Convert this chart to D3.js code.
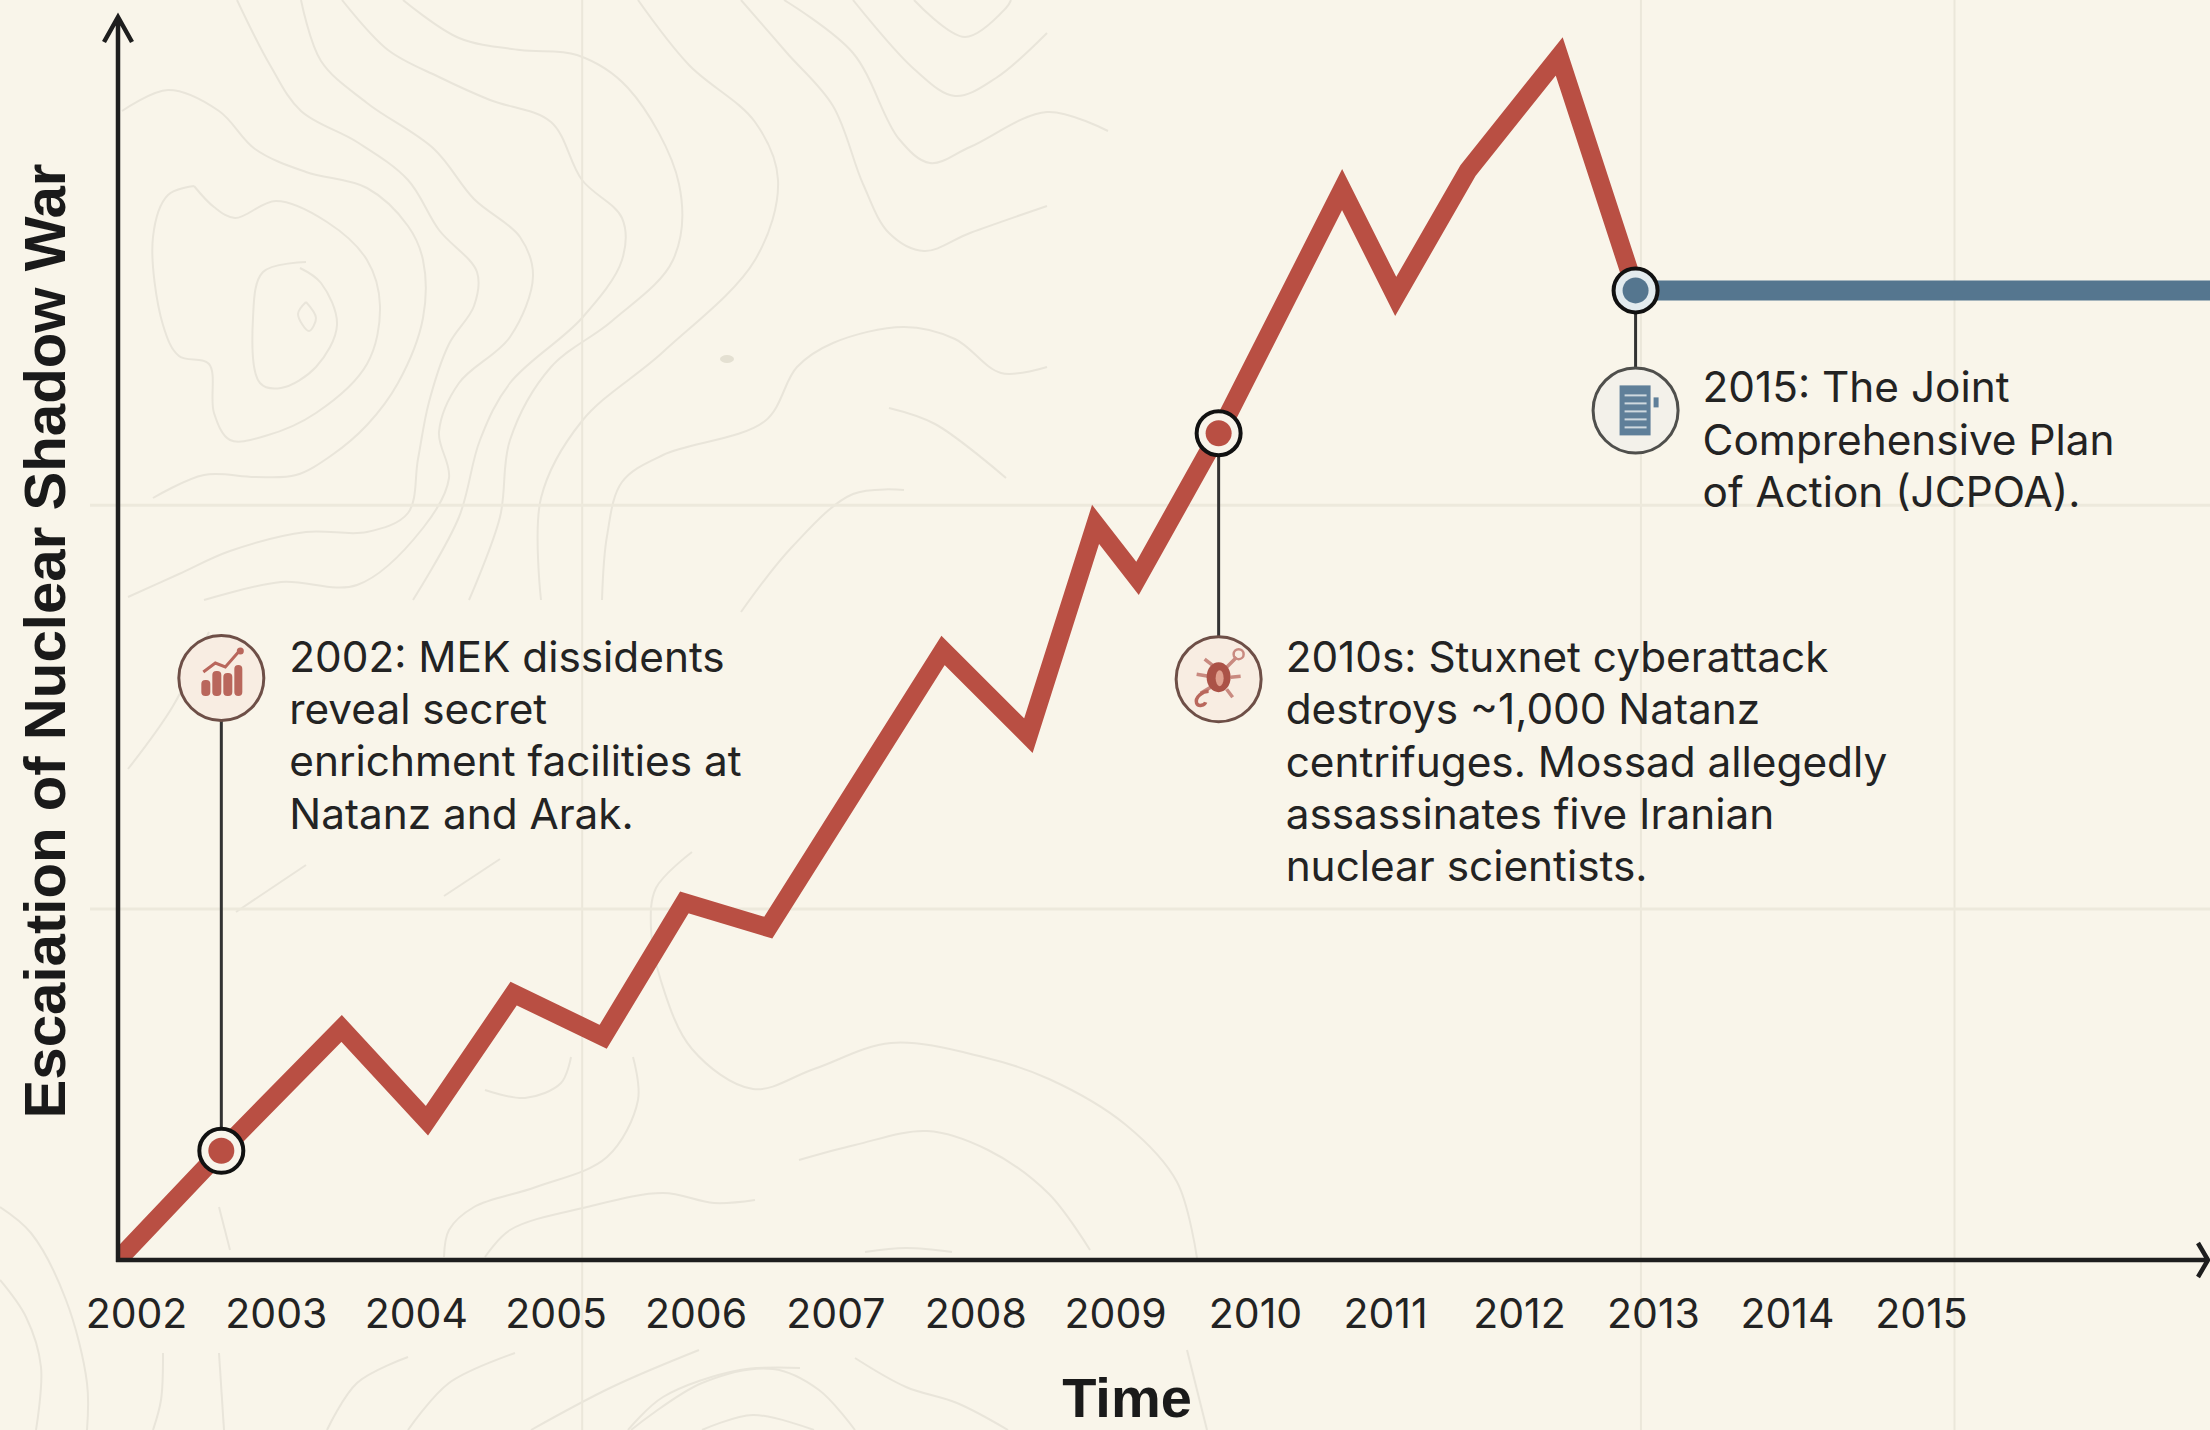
<!DOCTYPE html>
<html>
<head>
<meta charset="utf-8">
<title>Escalation of Nuclear Shadow War</title>
<script src="https://cdn.jsdelivr.net/npm/d3@7"></script>
<style>
  html, body { margin: 0; padding: 0; background: #f9f5ea; overflow: hidden; }
  svg { display: block; }
  text { font-family: Inter, "Liberation Sans", sans-serif; fill: #232323; }
  .title { font-family: "Liberation Sans", Arial, sans-serif; font-weight: 700; fill: #1a1a1a; }
</style>
</head>
<body>
<script>
'use strict';

var tickYears = [2002, 2003, 2004, 2005, 2006, 2007, 2008, 2009, 2010, 2011, 2012, 2013, 2014, 2015];

// escalation path
var redYears = [2001.87, 2002.61, 2003.47, 2004.08, 2004.70, 2005.34, 2005.92, 2006.52, 2007.77, 2008.38, 2008.86, 2009.16, 2009.74, 2010.67, 2011.08, 2011.62, 2012.30, 2012.87];
var redValues = [0, 9.1, 19.3, 11.6, 22.2, 18.6, 29.8, 27.7, 50.8, 43.7, 61.3, 56.8, 68.9, 89.2, 80.3, 90.8, 100.3, 80.8];

var blueYears = [2012.87, 2017.3];
var blueValues = [80.8, 80.8];

var eventYears = [2002.61, 2009.74, 2012.87];
var eventValues = [9.1, 68.9, 80.8];
var eventIconValues = [48.5, 48.4, 70.8];
var eventColors = ['red', 'red', 'blue'];
var eventIcons = ['chart', 'bug', 'doc'];
var eventTexts = [
  ['2002: MEK dissidents', 'reveal secret', 'enrichment facilities at', 'Natanz and Arak.'],
  ['2010s: Stuxnet cyberattack', 'destroys ~1,000 Natanz', 'centrifuges. Mossad allegedly', 'assassinates five Iranian', 'nuclear scientists.'],
  ['2015: The Joint', 'Comprehensive Plan', 'of Action (JCPOA).']
];

var gridYears = [2005.19, 2012.91, 2015.25];
var gridValues = [62.9, 29.25];

// faint terrain lines behind the chart, traced in page pixels
var terrain = [
  [[122,111],[168,90],[219,111],[255,149],[306,172],[367,188],[408,226],[423,260],[423,318],[398,383],[367,425],[332,455],[296,475],[255,477],[204,475],[153,498]],
  [[194,186],[214,207],[235,218],[276,201],[327,222],[367,260],[380,306],[367,364],[316,413],[265,436],[230,440],[214,413],[209,364],[179,356],[163,325],[153,237],[168,195],[194,186]],
  [[306,262],[263,272],[253,318],[260,383],[281,388],[316,367],[337,325],[321,283],[300,268]],
  [[306,302],[298,314],[309,331],[316,318],[306,302]],
  [[237,0],[270,65],[301,111],[357,142],[408,180],[439,230],[477,272],[474,306],[449,344],[429,402],[418,459],[408,513],[367,532],[306,532],[230,551],[179,574],[128,597]],
  [[301,0],[321,61],[367,103],[434,149],[474,199],[520,237],[533,276],[510,337],[459,383],[439,432],[449,478],[423,528],[357,585],[281,582],[204,600]],
  [[342,0],[388,50],[439,77],[490,100],[551,122],[582,180],[622,218],[622,260],[582,318],[510,383],[480,440],[459,517],[413,600]],
  [[403,0],[459,38],[520,50],[577,55],[628,88],[679,184],[673,260],[612,321],[551,367],[510,440],[500,517],[469,600]],
  [[638,0],[689,65],[755,122],[778,180],[755,260],[663,352],[582,421],[541,498],[541,600]],
  [[741,0],[787,53],[833,106],[863,184],[889,233],[924,251],[970,233],[1047,206]],
  [[784,0],[853,53],[899,139],[930,163],[970,147],[1047,112],[1108,131]],
  [[853,0],[914,69],[955,96],[996,78],[1047,33]],
  [[914,0],[965,37],[1006,8],[1011,0]],
  [[602,600],[607,536],[622,482],[663,455],[765,421],[797,367],[833,343],[904,327],[955,339],[1001,373],[1047,367]],
  [[889,408],[935,424],[1006,478]],
  [[904,490],[853,494],[792,547],[741,612]],
  [[236,912],[306,865]],
  [[444,896],[500,859]],
  [[128,769],[173,706],[209,632]],
  [[692,852],[656,888],[651,929],[661,981],[692,1049],[753,1089],[814,1069],[891,1043],[983,1057],[1049,1079],[1126,1125],[1177,1182],[1197,1258]],
  [[799,1160],[855,1145],[927,1131],[988,1150],[1049,1194],[1090,1250]],
  [[485,1090],[525,1098],[561,1083],[571,1057]],
  [[633,1057],[638,1100],[607,1157],[536,1187],[474,1207],[449,1230],[444,1257]],
  [[755,1200],[714,1203],[663,1193],[587,1207],[510,1230],[485,1257]],
  [[865,1252],[906,1248],[952,1252]],
  [[515,1353],[449,1383],[408,1430]],
  [[408,1357],[357,1383],[327,1430]],
  [[699,1350],[612,1387],[531,1430]],
  [[800,1368],[740,1370],[663,1397],[628,1430]],
  [[631,1430],[702,1383],[773,1369],[819,1390],[855,1430]],
  [[855,1358],[906,1387],[957,1403],[1008,1430]],
  [[702,1430],[753,1415],[814,1430]],
  [[1187,1350],[1207,1430]],
  [[0,1207],[31,1233],[66,1300],[87,1383],[87,1430]],
  [[0,1280],[26,1317],[41,1367],[36,1430]],
  [[163,1353],[161,1400],[153,1430]],
  [[219,1353],[224,1430]],
  [[219,1207],[230,1250]]
];

var width = 2210,
  height = 1430,
  axisX = 118,
  axisY = 1260,
  lineHeight = 52.2;

var x = d3.scaleLinear()
  .domain([2002, 2010, 2011, 2015])
  .range([136, 1255, 1385, 1921]);

var y = d3.scaleLinear()
  .domain([0, 100])
  .range([axisY, 60]);

var red = '#b94f43',
  blue = '#55768f';

var svg = d3.select('body').append('svg')
  .attr('width', width)
  .attr('height', height);

svg.append('rect')
  .attr('width', width)
  .attr('height', height)
  .attr('fill', '#f9f5ea');

// terrain
svg.append('g').selectAll('path')
  .data(terrain)
  .join('path')
  .attr('d', d3.line().curve(d3.curveCatmullRom.alpha(0.5)))
  .attr('fill', 'none')
  .attr('stroke', '#e9e5da')
  .attr('stroke-width', 2);

svg.append('ellipse')
  .attr('cx', 727)
  .attr('cy', 359)
  .attr('rx', 7)
  .attr('ry', 4)
  .attr('fill', '#e4e0d2');

// grid
svg.append('g').selectAll('line')
  .data(gridYears)
  .join('line')
  .attr('x1', function(d) { return x(d); })
  .attr('x2', function(d) { return x(d); })
  .attr('y1', 0)
  .attr('y2', height)
  .attr('stroke', '#ebe7da')
  .attr('stroke-width', 2);

svg.append('g').selectAll('line')
  .data(gridValues)
  .join('line')
  .attr('x1', 90)
  .attr('x2', width)
  .attr('y1', function(d) { return y(d); })
  .attr('y2', function(d) { return y(d); })
  .attr('stroke', '#ede9dc')
  .attr('stroke-width', 3);

// series
svg.append('clipPath')
  .attr('id', 'plot')
  .append('rect')
  .attr('x', axisX)
  .attr('y', 0)
  .attr('width', width - axisX)
  .attr('height', axisY);

var line = d3.line()
  .x(function(d) { return x(d[0]); })
  .y(function(d) { return y(d[1]); });

svg.append('path')
  .attr('clip-path', 'url(#plot)')
  .attr('d', line(d3.zip(redYears, redValues)))
  .attr('fill', 'none')
  .attr('stroke', red)
  .attr('stroke-width', 18.5)
  .attr('stroke-linejoin', 'miter')
  .attr('stroke-miterlimit', 10);

svg.append('path')
  .attr('d', line(d3.zip(blueYears, blueValues)))
  .attr('fill', 'none')
  .attr('stroke', blue)
  .attr('stroke-width', 20);

// axes
var xAxis = svg.append('g')
  .attr('transform', 'translate(0,' + axisY + ')')
  .call(d3.axisBottom(x).tickValues(tickYears).tickFormat(d3.format('d')).tickSize(0).tickPadding(39));

xAxis.select('.domain').remove();
xAxis.selectAll('text')
  .attr('font-size', 41)
  .style('font-family', 'Inter, sans-serif')
  .style('fill', '#232323');

var arrows = svg.append('g')
  .attr('fill', 'none')
  .attr('stroke', '#1e1e1e')
  .attr('stroke-width', 4.5);

arrows.append('path')
  .attr('d', 'M' + axisX + ',' + (axisY + 2) + 'V17M' + (axisX - 14) + ',42L' + axisX + ',17L' + (axisX + 14) + ',42');

arrows.append('path')
  .attr('d', 'M' + (axisX - 2) + ',' + axisY + 'H2208M2198,' + (axisY - 17) + 'L2208,' + axisY + 'L2198,' + (axisY + 17));

svg.append('text')
  .attr('class', 'title')
  .attr('text-anchor', 'middle')
  .attr('font-size', 58.2)
  .attr('transform', 'translate(65,641) rotate(-90)')
  .text('Escaiation of Nuclear Shadow War');

svg.append('text')
  .attr('class', 'title')
  .attr('text-anchor', 'middle')
  .attr('font-size', 56)
  .attr('x', 1127)
  .attr('y', 1417)
  .text('Time');

// icons
function drawIcon(g, type) {
  var ink = type === 'doc' ? '#5f7f99' : '#b9675c';
  if (type === 'chart') {
    g.selectAll('rect').data([[-20, 2, 9, 16], [-9, -7, 9, 25], [2, -5, 9, 23], [13, -13, 8, 31]])
      .join('rect')
      .attr('x', function(d) { return d[0]; })
      .attr('y', function(d) { return d[1]; })
      .attr('width', function(d) { return d[2]; })
      .attr('height', function(d) { return d[3]; })
      .attr('rx', 4)
      .attr('fill', ink);
    g.append('path')
      .attr('d', 'M-18,-6L-6,-15L4,-11L18,-27')
      .attr('fill', 'none')
      .attr('stroke', ink)
      .attr('stroke-width', 3);
    g.append('circle').attr('cx', 19).attr('cy', -27).attr('r', 3.5).attr('fill', ink);
  } else if (type === 'bug') {
    g.append('path')
      .attr('d', 'M-5,-13L-14,-20M8,-12L18,-22M-10,-3L-22,-5M12,-2L22,-3M-8,8L-18,14M8,10L14,18')
      .attr('stroke', '#c98a80')
      .attr('stroke-width', 3.5)
      .attr('fill', 'none');
    g.append('path')
      .attr('d', 'M-10,12C-16,12 -24,18 -22,24C-20,28 -14,26 -13,23')
      .attr('stroke', ink)
      .attr('stroke-width', 3.5)
      .attr('fill', 'none');
    g.append('circle').attr('cx', 20).attr('cy', -25).attr('r', 5).attr('fill', 'none').attr('stroke', '#c98a80').attr('stroke-width', 2.5);
    g.append('ellipse').attr('cx', 0).attr('cy', -2).attr('rx', 12).attr('ry', 15).attr('fill', '#ab5247');
    g.append('ellipse').attr('cx', 1).attr('cy', -1).attr('rx', 4).attr('ry', 8).attr('fill', '#e0a08f');
  } else {
    g.append('rect').attr('x', -16).attr('y', -25).attr('width', 31).attr('height', 50).attr('fill', ink);
    g.append('rect').attr('x', 18).attr('y', -13).attr('width', 5).attr('height', 10).attr('fill', ink);
    g.selectAll('line').data([-15, -7, 1, 9, 17])
      .join('line')
      .attr('x1', -11)
      .attr('x2', 11)
      .attr('y1', function(d) { return d; })
      .attr('y2', function(d) { return d; })
      .attr('stroke', '#cfd9df')
      .attr('stroke-width', 2);
  }
}

// callouts
var events = d3.range(eventYears.length).map(function(i) {
  return {
    year: eventYears[i],
    value: eventValues[i],
    iconValue: eventIconValues[i],
    color: eventColors[i] === 'red' ? red : blue,
    icon: eventIcons[i],
    text: eventTexts[i]
  };
});

var callout = svg.append('g').selectAll('g')
  .data(events)
  .join('g');

callout.append('line')
  .attr('x1', function(d) { return x(d.year); })
  .attr('x2', function(d) { return x(d.year); })
  .attr('y1', function(d) { return y(d.value); })
  .attr('y2', function(d) { return y(d.iconValue); })
  .attr('stroke', '#333')
  .attr('stroke-width', 3);

callout.append('circle')
  .attr('cx', function(d) { return x(d.year); })
  .attr('cy', function(d) { return y(d.value); })
  .attr('r', 22)
  .attr('fill', function(d) { return d.icon === 'doc' ? '#e3ebee' : '#f8f4ea'; })
  .attr('stroke', '#111')
  .attr('stroke-width', 4);

callout.append('circle')
  .attr('cx', function(d) { return x(d.year); })
  .attr('cy', function(d) { return y(d.value); })
  .attr('r', 13)
  .attr('fill', function(d) { return d.color; });

callout.append('circle')
  .attr('cx', function(d) { return x(d.year); })
  .attr('cy', function(d) { return y(d.iconValue); })
  .attr('r', 42.5)
  .attr('fill', function(d) { return d.icon === 'doc' ? '#f3f1ea' : '#f8ede2'; })
  .attr('stroke', function(d) { return d.icon === 'doc' ? '#4f4f4c' : '#6e4f47'; })
  .attr('stroke-width', 3);

callout.append('g')
  .attr('transform', function(d) { return 'translate(' + x(d.year) + ',' + y(d.iconValue) + ')'; })
  .each(function(d) { drawIcon(d3.select(this), d.icon); });

callout.each(function(d) {
  var left = x(d.year) + (d.icon === 'chart' ? 68 : 67);
  var top = y(d.iconValue) - (d.icon === 'doc' ? 8 : d.icon === 'bug' ? 7 : 6);
  d3.select(this).append('text')
    .attr('font-size', 42.3)
    .selectAll('tspan')
    .data(d.text)
    .join('tspan')
    .attr('x', left)
    .attr('y', function(t, i) { return top + i * lineHeight; })
    .text(function(t) { return t; });
});
</script>
</body>
</html>
